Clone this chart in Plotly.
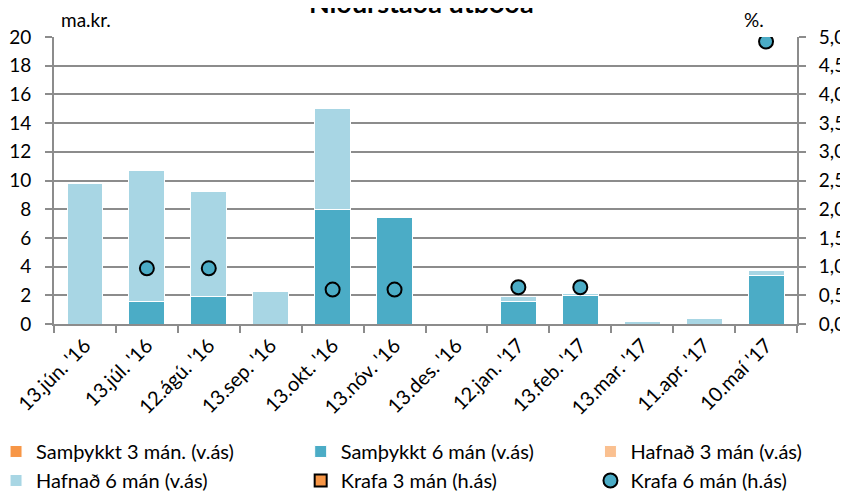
import plotly.graph_objects as go

# Niðurstaða útboða – útboðsdagar
dagsetningar = ["13.jún. '16", "13.júl. '16", "12.ágú. '16", "13.sep. '16",
                "13.okt. '16", "13.nóv. '16", "13.des. '16", "12.jan. '17",
                "13.feb. '17", "13.mar. '17", "11.apr. '17", "10.maí '17"]

# ma.kr. (vinstri ás)
samthykkt_3 = [None] * 12
samthykkt_6 = [0, 1.6, 1.9, 0, 8.0, 7.4, 0, 1.6, 2.0, 0, 0, 3.4]
hafnad_3 = [None] * 12
hafnad_6 = [9.8, 9.1, 7.3, 2.3, 7.0, 0.1, 0, 0.3, 0.15, 0.2, 0.35, 0.3]

# % (hægri ás)
krafa_3 = [None] * 12
krafa_6 = [None, 0.97, 0.97, None, 0.6, 0.6, None, 0.64, 0.64, None, None, 4.92]

LETUR = "Lato, sans-serif"
GRID = "#8c8c8c"

fig = go.Figure()
fig.add_trace(go.Bar(x=dagsetningar, y=samthykkt_3, name="Samþykkt 3 mán. (v.ás)",
                     legend="legend",
                     marker=dict(color="#f79646", line=dict(color="white", width=1))))
fig.add_trace(go.Bar(x=dagsetningar, y=samthykkt_6, name="Samþykkt 6 mán (v.ás)",
                     legend="legend2",
                     marker=dict(color="#4bacc6", line=dict(color="white", width=1))))
fig.add_trace(go.Bar(x=dagsetningar, y=hafnad_3, name="Hafnað 3 mán (v.ás)",
                     legend="legend3",
                     marker=dict(color="#fac090", line=dict(color="white", width=1))))
fig.add_trace(go.Bar(x=dagsetningar, y=hafnad_6, name="Hafnað 6 mán (v.ás)",
                     legend="legend",
                     marker=dict(color="#a8d6e4", line=dict(color="white", width=1))))
fig.add_trace(go.Scatter(x=dagsetningar, y=krafa_3, name="Krafa 3 mán (h.ás)", yaxis="y2",
                         mode="markers", legend="legend2",
                         marker=dict(symbol="square", size=12, color="#f79646",
                                     line=dict(color="black", width=2))))
fig.add_trace(go.Scatter(x=dagsetningar, y=krafa_6, name="Krafa 6 mán (h.ás)", yaxis="y2",
                         mode="markers", legend="legend3",
                         marker=dict(symbol="circle", size=14, color="#4bacc6",
                                     line=dict(color="black", width=2))))

legend_common = dict(orientation="v", xref="paper", yref="container",
                     y=0.124, yanchor="top", xanchor="left",
                     traceorder="normal", itemwidth=30, tracegroupgap=0,
                     font=dict(size=20, family=LETUR), bgcolor="rgba(0,0,0,0)")

# síðan hefur 8px spássíu, svo myndin er 840x484
fig.update_layout(
    width=840, height=484,
    barmode="stack", bargap=0.42,
    separators=", ",
    plot_bgcolor="white", paper_bgcolor="white",
    font=dict(family=LETUR, size=20, color="black"),
    margin=dict(l=46, r=51, t=29, b=168, autoexpand=False),
    showlegend=True,
    legend=dict(legend_common, x=-0.078),
    legend2=dict(legend_common, x=0.332),
    legend3=dict(legend_common, x=0.722),
    xaxis=dict(type="category", range=[-0.5, 11.5], tickangle=-45,
               showline=True, linecolor=GRID, linewidth=2,
               ticks="outside", tickson="boundaries", ticklen=7, tickcolor=GRID, tickwidth=2,
               showgrid=False, tickfont=dict(size=20), automargin=False),
    yaxis=dict(range=[0, 20], dtick=2, showline=True, linecolor=GRID, linewidth=2,
               ticks="outside", ticklen=7, tickcolor=GRID, tickwidth=2,
               showgrid=True, gridcolor=GRID, gridwidth=2, zeroline=False,
               ticklabelstandoff=10, tickfont=dict(size=19), automargin=False),
    yaxis2=dict(range=[0, 5], dtick=0.5, tickformat=".1f", overlaying="y", side="right",
                showline=True, linecolor=GRID, linewidth=2,
                ticks="outside", ticklen=7, tickcolor=GRID, tickwidth=2,
                showgrid=False, zeroline=False, ticklabelstandoff=9,
                tickfont=dict(size=19), automargin=False),
)

fig.add_annotation(text="<b>Niðurstaða útboða</b>", xref="paper", yref="paper",
                   x=0.495, y=1.12, yanchor="middle", showarrow=False,
                   font=dict(size=27))
fig.add_annotation(text="ma.kr.", xref="paper", yref="paper", x=0.008, y=1.06,
                   xanchor="left", yanchor="middle", showarrow=False, borderpad=0,
                   font=dict(size=19))
fig.add_annotation(text="%.", xref="paper", yref="paper", x=0.957, y=1.06,
                   xanchor="right", yanchor="middle", showarrow=False, borderpad=0,
                   font=dict(size=19))

fig.write_html("out.html")
